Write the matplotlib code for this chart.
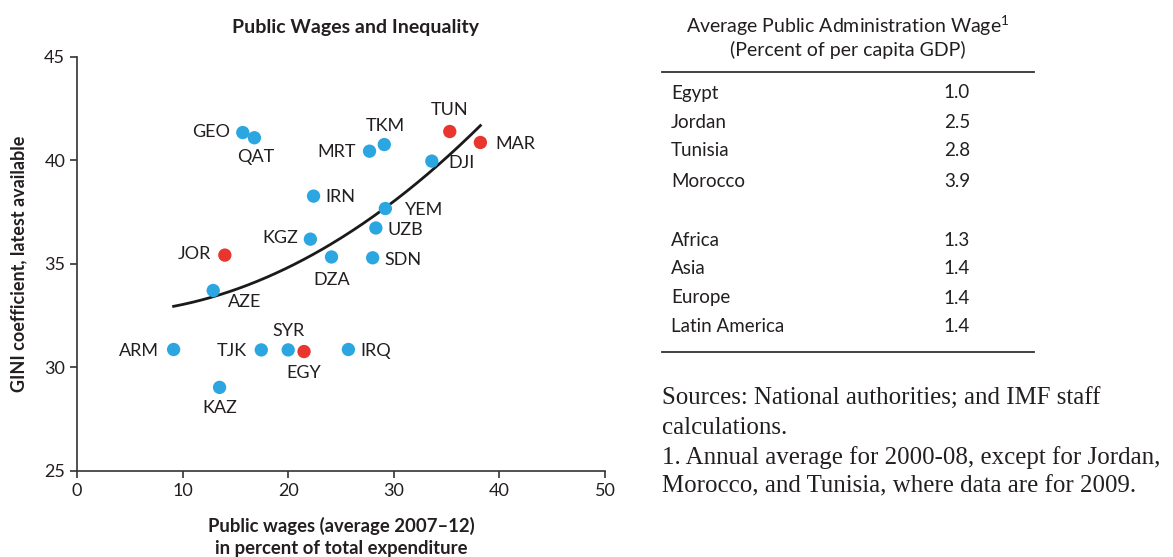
import numpy as np
import matplotlib
matplotlib.use("Agg")
import matplotlib.pyplot as plt

plt.rcParams['font.family'] = ['Lato', 'DejaVu Sans']
plt.rcParams['mathtext.fontset'] = 'custom'
plt.rcParams['mathtext.rm'] = 'Lato'

# scatter data: public wages (% of total expenditure) vs GINI
codes = ['GEO', 'QAT', 'TKM', 'MRT', 'TUN', 'MAR', 'DJI', 'IRN', 'YEM', 'UZB', 'KGZ',
         'DZA', 'SDN', 'JOR', 'AZE', 'ARM', 'TJK', 'SYR', 'EGY', 'IRQ', 'KAZ']
wage = [15.7, 16.8, 29.1, 27.7, 35.3, 38.2, 33.6, 22.4, 29.2, 28.3, 22.1,
        24.1, 28.0, 14.0, 12.9, 9.15, 17.45, 20.0, 21.5, 25.7, 13.5]
gini = [41.35, 41.1, 40.77, 40.45, 41.4, 40.87, 39.97, 38.28, 37.68, 36.74, 36.2,
        35.34, 35.3, 35.43, 33.72, 30.87, 30.85, 30.85, 30.77, 30.87, 29.04]
highlight = ['JOR', 'EGY', 'TUN', 'MAR']

# table on the right
tbl_names = ['Egypt', 'Jordan', 'Tunisia', 'Morocco', 'Africa', 'Asia', 'Europe', 'Latin America']
tbl_values = ['1.0', '2.5', '2.8', '3.9', '1.3', '1.4', '1.4', '1.4']

# label placement: (dx, dy in pixels, ha)
label_pos = {
    'GEO': (-13, 1, 'right'), 'QAT': (1, -19, 'center'), 'TKM': (1, 19, 'center'),
    'MRT': (-14, -1, 'right'), 'TUN': (0, 22, 'center'), 'MAR': (15, -2, 'left'),
    'DJI': (17, -2, 'left'), 'IRN': (12, -1, 'left'), 'YEM': (20, -1, 'left'),
    'UZB': (12, -2, 'left'), 'KGZ': (-12, 1, 'right'), 'DZA': (0, -23, 'center'),
    'SDN': (12, -2, 'left'), 'JOR': (-14, 1, 'right'), 'AZE': (15, -12, 'left'),
    'ARM': (-15, -2, 'right'), 'TJK': (-14, -1, 'right'), 'SYR': (0, 19, 'center'),
    'EGY': (0, -21, 'center'), 'IRQ': (12, -2, 'left'), 'KAZ': (0, -21, 'center'),
}

blue = '#2BA6E0'
red = '#E8352E'
txt = '#231f20'

W, H = 1173, 557
fig = plt.figure(figsize=(W / 100, H / 100), dpi=100)
ax = fig.add_axes([77 / W, 1 - 471 / H, (605 - 77) / W, (471 - 57) / H])

colors = [red if c in highlight else blue for c in codes]
ax.scatter(wage, gini, s=92, c=colors, zorder=3, linewidths=0)

# quadratic trend fitted on the plotted countries
fit = np.polyfit(wage, gini, 2)
xs = np.linspace(min(wage), max(wage), 200)
ax.plot(xs, np.polyval(fit, xs), color='#1a1a1a', lw=2, zorder=2)

for c, x, y in zip(codes, wage, gini):
    dx, dy, ha = label_pos[c]
    ax.annotate(c, (x, y), xytext=(dx, dy), textcoords='offset pixels',
                ha=ha, va='center', fontsize=13, color=txt)

ax.set_xlim(0, 50)
ax.set_ylim(25, 45)
ax.set_xticks(range(0, 51, 10))
ax.set_yticks([25, 30, 35, 40, 45])
for s in ['top', 'right']:
    ax.spines[s].set_visible(False)
for s in ['left', 'bottom']:
    ax.spines[s].set_color('#333333')
    ax.spines[s].set_linewidth(1.2)
ax.tick_params(direction='out', length=5, width=1.2, color='#333333',
               labelsize=13, labelcolor=txt)

ax.set_xlabel('Public wages (average 2007\u201312)\nin percent of total expenditure',
              fontsize=13.3, fontweight='bold', labelpad=13, linespacing=1.35, color=txt)
ax.set_ylabel('GINI coefficient, latest available', fontsize=13, fontweight='bold',
              labelpad=12, color=txt)
fig.text(356 / W, 1 - 27 / H, 'Public Wages and Inequality', ha='center', va='center',
         fontsize=14, fontweight='bold', color=txt)

# table
fig.text(848 / W, 1 - 26 / H, r'Average Public Administration Wage$^{1}$', ha='center',
         va='center', fontsize=14, color=txt)
fig.text(848 / W, 1 - 50 / H, '(Percent of per capita GDP)', ha='center', va='center',
         fontsize=14, color=txt)
fig.add_artist(plt.Line2D([662 / W, 1034 / W], [1 - 72 / H] * 2, color='#333333', lw=1.3))
fig.add_artist(plt.Line2D([662 / W, 1034 / W], [1 - 352 / H] * 2, color='#333333', lw=1.3))
row_y = [93, 122, 151, 181, 240, 269, 298, 327]
for name, val, ry in zip(tbl_names, tbl_values, row_y):
    fig.text(671 / W, 1 - ry / H, name, ha='left', va='center', fontsize=13.5, color=txt)
    fig.text(957 / W, 1 - ry / H, val, ha='center', va='center', fontsize=13.5, color=txt)

notes = ['Sources: National authorities; and IMF staff', 'calculations.',
         '1. Annual average for 2000-08, except for Jordan,',
         'Morocco, and Tunisia, where data are for 2009.']
for t, ny in zip(notes, [399, 428, 458, 486]):
    fig.text(662 / W, 1 - ny / H, t, ha='left', va='center', fontsize=17.9,
             family='Liberation Serif', color=txt)

fig.savefig('out.png', dpi=100)
